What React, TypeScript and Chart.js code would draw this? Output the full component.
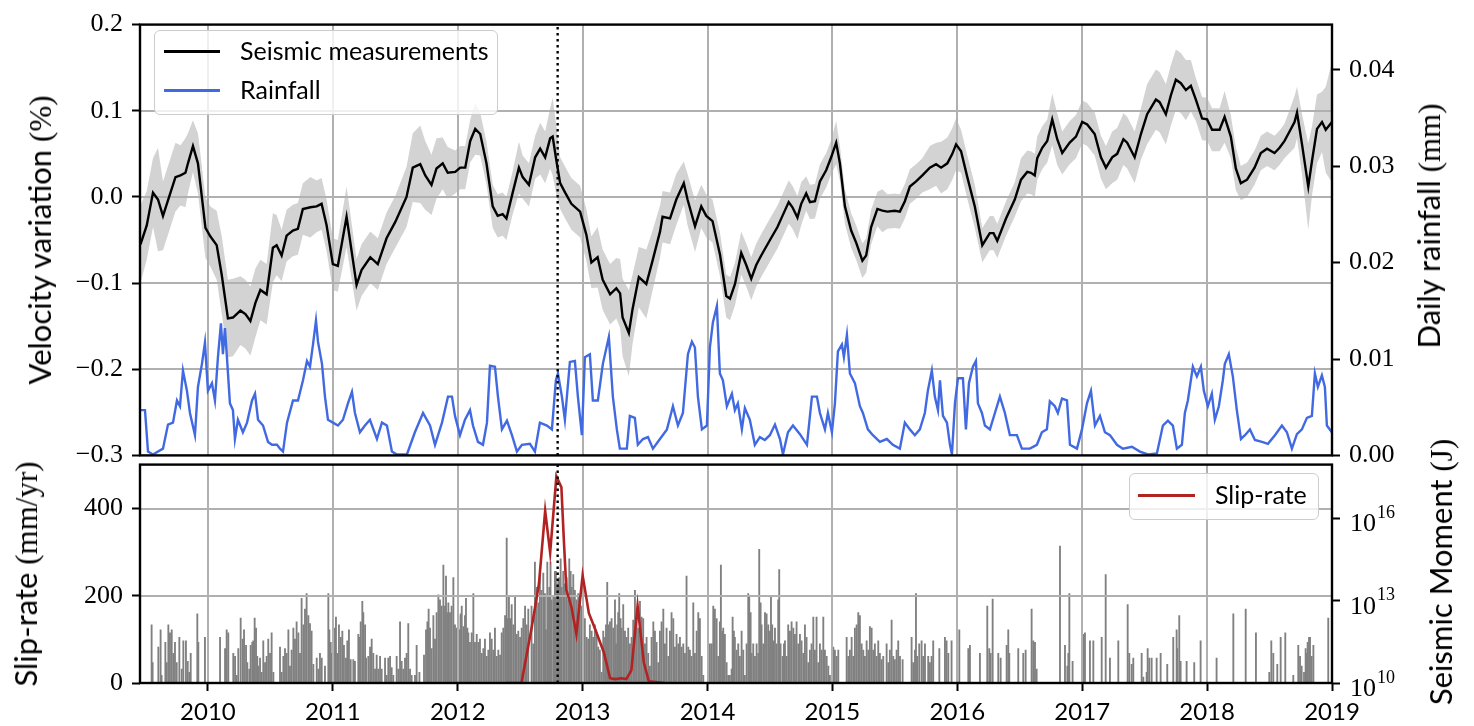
import React, { useEffect, useRef } from 'react';
import { Chart, registerables } from 'chart.js';

Chart.register(...registerables);

// ---------- axis ranges & ticks ----------
const X_MIN = 2009.456;
const X_MAX = 2019;
const yearTicks = [2010, 2011, 2012, 2013, 2014, 2015, 2016, 2017, 2018, 2019];
const velTicks = [-0.3, -0.2, -0.1, 0, 0.1, 0.2];
const velTickLabels = ['\u22120.3', '\u22120.2', '\u22120.1', '0.0', '0.1', '0.2'];
const rainTicks = [0, 0.01, 0.02, 0.03, 0.04];
const rainTickLabels = ['0.00', '0.01', '0.02', '0.03', '0.04'];
const RAIN_MAX = 0.0447;
const slipTicks = [0, 200, 400];
const slipTickLabels = ['0', '200', '400'];
const SLIP_MAX = 501;
const momentTickExponents = [10, 13, 16];
const MOMENT_MIN_EXP = 10;
const MOMENT_MAX_EXP = 17.96;
const eventYear = 2012.8;

// ---------- data: velocity [year, dv/v (%), half-width of uncertainty band] ----------
const velocity: [number, number, number][] = [
[2009.46,-0.055,0.045],[2009.51,-0.033,0.04],[2009.56,0.005,0.04],[2009.60,-0.003,0.06],[2009.64,-0.022,0.04],[2009.70,0.005,0.04],[2009.74,0.023,0.04],[2009.78,0.025,0.035],[2009.82,0.028,0.04],[2009.84,0.039,0.035],[2009.88,0.059,0.03],[2009.92,0.039,0.035],[2009.98,-0.036,0.035],[2010.02,-0.046,0.035],[2010.07,-0.056,0.04],[2010.11,-0.09,0.045],[2010.16,-0.141,0.045],[2010.20,-0.14,0.045],[2010.26,-0.132,0.04],[2010.30,-0.136,0.04],[2010.34,-0.144,0.04],[2010.38,-0.123,0.04],[2010.42,-0.108,0.035],[2010.47,-0.113,0.035],[2010.52,-0.059,0.04],[2010.55,-0.056,0.035],[2010.59,-0.068,0.03],[2010.63,-0.045,0.03],[2010.68,-0.039,0.03],[2010.72,-0.037,0.03],[2010.76,-0.014,0.03],[2010.82,-0.012,0.035],[2010.87,-0.011,0.03],[2010.91,-0.008,0.03],[2010.95,-0.033,0.03],[2011.00,-0.078,0.03],[2011.04,-0.080,0.03],[2011.11,-0.023,0.035],[2011.19,-0.102,0.03],[2011.23,-0.085,0.03],[2011.30,-0.07,0.03],[2011.36,-0.078,0.03],[2011.43,-0.048,0.03],[2011.50,-0.029,0.03],[2011.59,0.0,0.035],[2011.64,0.034,0.04],[2011.70,0.038,0.045],[2011.74,0.025,0.04],[2011.79,0.014,0.035],[2011.83,0.033,0.035],[2011.88,0.039,0.03],[2011.92,0.028,0.03],[2011.98,0.029,0.025],[2012.02,0.034,0.025],[2012.06,0.034,0.025],[2012.10,0.065,0.025],[2012.14,0.079,0.03],[2012.18,0.073,0.025],[2012.23,0.039,0.025],[2012.28,-0.011,0.025],[2012.32,-0.022,0.025],[2012.36,-0.02,0.025],[2012.39,-0.025,0.025],[2012.44,0.005,0.025],[2012.49,0.034,0.03],[2012.52,0.023,0.025],[2012.57,0.014,0.025],[2012.62,0.046,0.025],[2012.66,0.056,0.03],[2012.70,0.046,0.03],[2012.74,0.068,0.035],[2012.76,0.070,0.045],[2012.79,0.042,0.04],[2012.82,0.016,0.03],[2012.86,0.005,0.03],[2012.91,-0.008,0.03],[2012.98,-0.017,0.03],[2013.03,-0.044,0.03],[2013.07,-0.076,0.03],[2013.12,-0.07,0.035],[2013.16,-0.096,0.035],[2013.22,-0.113,0.035],[2013.27,-0.106,0.035],[2013.30,-0.112,0.04],[2013.32,-0.14,0.045],[2013.37,-0.158,0.05],[2013.40,-0.13,0.04],[2013.45,-0.093,0.035],[2013.51,-0.101,0.04],[2013.56,-0.074,0.035],[2013.62,-0.04,0.03],[2013.64,-0.023,0.03],[2013.70,-0.025,0.03],[2013.75,-0.003,0.03],[2013.81,0.016,0.025],[2013.84,-0.003,0.03],[2013.90,-0.034,0.03],[2013.95,-0.011,0.025],[2013.99,-0.022,0.025],[2014.04,-0.028,0.025],[2014.10,-0.067,0.025],[2014.15,-0.115,0.025],[2014.18,-0.118,0.025],[2014.22,-0.101,0.025],[2014.27,-0.065,0.025],[2014.31,-0.079,0.025],[2014.35,-0.095,0.025],[2014.39,-0.079,0.025],[2014.43,-0.068,0.025],[2014.50,-0.05,0.025],[2014.56,-0.035,0.025],[2014.60,-0.022,0.025],[2014.65,-0.006,0.025],[2014.68,-0.012,0.025],[2014.72,-0.024,0.025],[2014.75,-0.008,0.025],[2014.79,0.004,0.02],[2014.82,-0.006,0.02],[2014.86,-0.005,0.02],[2014.90,0.018,0.02],[2014.95,0.031,0.02],[2014.99,0.046,0.02],[2015.03,0.063,0.025],[2015.06,0.039,0.02],[2015.10,-0.011,0.02],[2015.15,-0.039,0.02],[2015.19,-0.053,0.02],[2015.24,-0.074,0.02],[2015.27,-0.068,0.02],[2015.31,-0.035,0.02],[2015.36,-0.014,0.02],[2015.40,-0.016,0.025],[2015.44,-0.017,0.02],[2015.50,-0.016,0.02],[2015.54,-0.017,0.02],[2015.58,-0.005,0.02],[2015.62,0.012,0.02],[2015.67,0.018,0.02],[2015.72,0.025,0.02],[2015.78,0.034,0.025],[2015.83,0.038,0.025],[2015.87,0.034,0.03],[2015.92,0.039,0.03],[2015.96,0.05,0.03],[2015.99,0.061,0.03],[2016.03,0.053,0.025],[2016.08,0.023,0.025],[2016.14,-0.011,0.025],[2016.20,-0.056,0.02],[2016.26,-0.042,0.02],[2016.29,-0.042,0.02],[2016.32,-0.051,0.02],[2016.39,-0.025,0.02],[2016.46,-0.003,0.02],[2016.51,0.02,0.025],[2016.56,0.029,0.025],[2016.59,0.028,0.025],[2016.62,0.025,0.025],[2016.64,0.045,0.025],[2016.68,0.057,0.025],[2016.72,0.065,0.025],[2016.76,0.09,0.03],[2016.80,0.067,0.03],[2016.84,0.051,0.025],[2016.90,0.063,0.025],[2016.95,0.070,0.025],[2017.00,0.087,0.025],[2017.04,0.084,0.025],[2017.10,0.073,0.025],[2017.15,0.046,0.025],[2017.19,0.034,0.025],[2017.24,0.046,0.03],[2017.28,0.05,0.03],[2017.33,0.067,0.03],[2017.36,0.063,0.03],[2017.42,0.046,0.03],[2017.47,0.073,0.03],[2017.52,0.096,0.035],[2017.59,0.113,0.035],[2017.62,0.110,0.035],[2017.67,0.096,0.035],[2017.71,0.118,0.035],[2017.75,0.136,0.035],[2017.79,0.132,0.035],[2017.83,0.124,0.035],[2017.87,0.129,0.03],[2017.91,0.113,0.025],[2017.96,0.091,0.025],[2018.00,0.09,0.025],[2018.04,0.078,0.025],[2018.10,0.078,0.025],[2018.14,0.093,0.03],[2018.19,0.07,0.025],[2018.23,0.033,0.025],[2018.27,0.016,0.02],[2018.32,0.02,0.02],[2018.38,0.034,0.02],[2018.43,0.051,0.02],[2018.48,0.056,0.02],[2018.54,0.051,0.02],[2018.58,0.057,0.02],[2018.62,0.065,0.02],[2018.66,0.076,0.025],[2018.70,0.087,0.03],[2018.72,0.098,0.03],[2018.76,0.061,0.035],[2018.81,0.012,0.05],[2018.84,0.042,0.04],[2018.88,0.079,0.04],[2018.92,0.087,0.035],[2018.95,0.078,0.05],[2019.00,0.087,0.07]
];

// ---------- data: daily rainfall [year, mm] ----------
const rainfall: [number, number][] = [
[2009.46,0.0047],[2009.496,0.0047],[2009.520,0.0004],[2009.560,0.0001],[2009.640,0.0007],[2009.680,0.0032],[2009.720,0.0034],[2009.752,0.0057],[2009.776,0.0051],[2009.800,0.0088],[2009.832,0.0067],[2009.856,0.0044],[2009.896,0.0021],[2009.920,0.0071],[2009.952,0.0095],[2009.976,0.0117],[2010.000,0.0067],[2010.032,0.0075],[2010.056,0.0057],[2010.080,0.0102],[2010.104,0.0137],[2010.120,0.0105],[2010.136,0.0132],[2010.152,0.0102],[2010.176,0.0054],[2010.200,0.0047],[2010.216,0.0017],[2010.240,0.0037],[2010.280,0.0024],[2010.313,0.0034],[2010.353,0.0057],[2010.377,0.0064],[2010.401,0.0037],[2010.441,0.0031],[2010.481,0.0014],[2010.513,0.0011],[2010.553,0.0011],[2010.577,0.0007],[2010.601,0.0004],[2010.633,0.0034],[2010.681,0.0057],[2010.721,0.0057],[2010.761,0.0078],[2010.793,0.0098],[2010.817,0.0092],[2010.841,0.0115],[2010.865,0.0140],[2010.881,0.0118],[2010.913,0.0095],[2010.937,0.0061],[2010.961,0.0037],[2011.001,0.0034],[2011.041,0.0031],[2011.081,0.0037],[2011.121,0.0054],[2011.153,0.0066],[2011.177,0.0044],[2011.217,0.0024],[2011.257,0.0031],[2011.297,0.0037],[2011.353,0.0017],[2011.393,0.0034],[2011.433,0.0031],[2011.473,0.0004],[2011.513,0.0001],[2011.593,0.0001],[2011.657,0.0024],[2011.722,0.0044],[2011.778,0.0031],[2011.818,0.0011],[2011.874,0.0034],[2011.922,0.0061],[2011.954,0.0061],[2011.978,0.0041],[2012.018,0.0021],[2012.058,0.0037],[2012.098,0.0047],[2012.122,0.0031],[2012.162,0.0014],[2012.202,0.0011],[2012.234,0.0034],[2012.258,0.0093],[2012.298,0.0092],[2012.322,0.0061],[2012.354,0.0027],[2012.394,0.0036],[2012.434,0.0021],[2012.474,0.0004],[2012.514,0.0011],[2012.578,0.0012],[2012.618,0.0004],[2012.658,0.0034],[2012.714,0.0031],[2012.754,0.0027],[2012.786,0.0078],[2012.802,0.0085],[2012.834,0.0061],[2012.858,0.0037],[2012.898,0.0097],[2012.938,0.0098],[2012.962,0.0061],[2012.994,0.0021],[2013.018,0.0102],[2013.058,0.0105],[2013.082,0.0057],[2013.122,0.0057],[2013.162,0.0095],[2013.210,0.0123],[2013.242,0.0061],[2013.274,0.0027],[2013.298,0.0007],[2013.354,0.0007],[2013.378,0.0041],[2013.418,0.0039],[2013.442,0.0011],[2013.483,0.0017],[2013.523,0.0019],[2013.563,0.0007],[2013.619,0.0017],[2013.675,0.0027],[2013.723,0.0051],[2013.763,0.0031],[2013.803,0.0044],[2013.843,0.0105],[2013.875,0.0118],[2013.899,0.0112],[2013.923,0.0061],[2013.955,0.0027],[2013.995,0.0031],[2014.019,0.0112],[2014.043,0.0138],[2014.075,0.0155],[2014.099,0.0085],[2014.123,0.0078],[2014.155,0.0051],[2014.195,0.0064],[2014.219,0.0047],[2014.243,0.0054],[2014.275,0.0027],[2014.299,0.0049],[2014.339,0.0037],[2014.379,0.0011],[2014.419,0.0019],[2014.459,0.0016],[2014.499,0.0021],[2014.540,0.0032],[2014.580,0.0017],[2014.604,0.0001],[2014.644,0.0024],[2014.684,0.0031],[2014.740,0.0022],[2014.796,0.0011],[2014.836,0.0061],[2014.876,0.0061],[2014.900,0.0044],[2014.940,0.0027],[2014.964,0.0044],[2014.996,0.0024],[2015.020,0.0054],[2015.044,0.0108],[2015.076,0.0115],[2015.092,0.0102],[2015.116,0.0125],[2015.140,0.0085],[2015.180,0.0075],[2015.220,0.0051],[2015.244,0.0044],[2015.284,0.0027],[2015.324,0.0021],[2015.380,0.0014],[2015.436,0.0017],[2015.484,0.0011],[2015.540,0.0007],[2015.580,0.0034],[2015.620,0.0027],[2015.660,0.0021],[2015.700,0.0027],[2015.740,0.0044],[2015.764,0.0067],[2015.796,0.0088],[2015.820,0.0061],[2015.845,0.0047],[2015.861,0.0078],[2015.885,0.0041],[2015.917,0.0034],[2015.941,0.0011],[2015.957,0.0001],[2015.981,0.0054],[2016.005,0.0080],[2016.045,0.0080],[2016.069,0.0027],[2016.093,0.0075],[2016.125,0.0092],[2016.149,0.0098],[2016.165,0.0054],[2016.197,0.0044],[2016.221,0.0031],[2016.261,0.0027],[2016.301,0.0044],[2016.341,0.0061],[2016.381,0.0044],[2016.421,0.0021],[2016.477,0.0021],[2016.517,0.0007],[2016.581,0.0007],[2016.637,0.0011],[2016.677,0.0024],[2016.717,0.0027],[2016.741,0.0056],[2016.781,0.0051],[2016.805,0.0044],[2016.838,0.0059],[2016.878,0.0057],[2016.902,0.0011],[2016.958,0.0007],[2016.998,0.0027],[2017.038,0.0054],[2017.070,0.0067],[2017.102,0.0031],[2017.142,0.0041],[2017.182,0.0024],[2017.222,0.0021],[2017.278,0.0011],[2017.326,0.0007],[2017.398,0.0009],[2017.462,0.0004],[2017.526,0.0001],[2017.598,0.0002],[2017.646,0.0031],[2017.686,0.0036],[2017.726,0.0031],[2017.758,0.0007],[2017.798,0.0011],[2017.822,0.0044],[2017.846,0.0057],[2017.886,0.0092],[2017.918,0.0082],[2017.950,0.0092],[2017.974,0.0067],[2018.006,0.0051],[2018.038,0.0064],[2018.062,0.0037],[2018.094,0.0051],[2018.126,0.0078],[2018.142,0.0095],[2018.174,0.0105],[2018.206,0.0082],[2018.238,0.0047],[2018.271,0.0017],[2018.303,0.0021],[2018.343,0.0027],[2018.383,0.0016],[2018.439,0.0014],[2018.487,0.0012],[2018.543,0.0021],[2018.599,0.0031],[2018.639,0.0024],[2018.679,0.0007],[2018.719,0.0022],[2018.759,0.0027],[2018.799,0.0039],[2018.839,0.0041],[2018.863,0.0085],[2018.887,0.0071],[2018.919,0.0083],[2018.943,0.0071],[2018.959,0.0031],[2018.999,0.0024]
];

// ---------- data: slip-rate [year, mm/yr] ----------
const slipRate: [number, number][] = [
[2012.39,0],[2012.51,0],[2012.59,124],[2012.65,227],[2012.70,395],[2012.74,299],[2012.79,474],[2012.83,449],[2012.85,326],[2012.87,213],[2012.91,175],[2012.95,112],[2013.00,247],[2013.05,160],[2013.10,124],[2013.17,70],[2013.22,11],[2013.26,9],[2013.31,11],[2013.35,9],[2013.39,29],[2013.44,177],[2013.49,47],[2013.53,4],[2013.66,0]
];

// ---------- data: seismic moment [year, log10 moment (J)] ----------
const quakes: [number, number][] = [
[2009.549,12.12],[2009.557,10.74],[2009.603,11.31],[2009.621,11.94],[2009.629,10.28],[2009.659,11.48],[2009.670,10.74],[2009.683,12.12],[2009.696,11.83],[2009.710,11.94],[2009.723,11.08],[2009.736,11.48],[2009.750,10.74],[2009.771,11.66],[2009.790,10.51],[2009.803,11.54],[2009.824,11.54],[2009.838,10.79],[2009.851,10.39],[2009.862,11.08],[2009.915,12.52],[2009.923,11.48],[2009.976,11.66],
[2010.097,11.66],[2010.137,11.25],[2010.150,11.94],[2010.163,11.83],[2010.203,11.08],[2010.217,10.97],[2010.230,10.28],[2010.243,11.25],[2010.262,12.37],[2010.278,11.60],[2010.289,11.94],[2010.305,11.37],[2010.315,10.74],[2010.331,10.51],[2010.342,11.37],[2010.355,11.48],[2010.363,11.54],[2010.374,12.37],[2010.385,12.00],[2010.395,10.97],[2010.403,10.62],[2010.417,10.91],[2010.430,10.39],[2010.443,11.54],[2010.457,10.74],[2010.470,10.97],[2010.483,11.60],[2010.497,11.08],[2010.510,11.83],[2010.524,10.39],[2010.577,11.31],[2010.590,10.39],[2010.604,10.97],[2010.617,11.25],[2010.630,11.08],[2010.644,11.94],[2010.657,10.62],[2010.670,11.20],[2010.684,12.00],[2010.697,11.60],[2010.710,12.23],[2010.724,11.83],[2010.737,11.08],[2010.750,13.09],[2010.764,12.12],[2010.777,12.69],[2010.790,13.26],[2010.804,12.46],[2010.817,12.17],[2010.830,11.89],[2010.844,10.68],[2010.871,10.91],[2010.884,10.51],[2010.897,11.08],[2010.911,10.91],[2010.937,10.62],[2010.964,13.26],[2010.972,11.94],[2010.983,11.48],[2010.991,11.08],
[2011.004,11.54],[2011.017,12.00],[2011.025,12.40],[2011.036,11.08],[2011.049,12.12],[2011.063,11.66],[2011.076,11.89],[2011.089,11.37],[2011.105,10.91],[2011.116,11.54],[2011.129,11.94],[2011.143,10.85],[2011.164,10.85],[2011.177,10.79],[2011.204,11.77],[2011.217,11.66],[2011.223,12.23],[2011.236,12.98],[2011.244,12.57],[2011.258,12.12],[2011.266,10.91],[2011.284,10.97],[2011.298,11.31],[2011.311,11.60],[2011.324,11.08],[2011.338,10.51],[2011.351,11.02],[2011.364,10.51],[2011.378,10.97],[2011.391,10.51],[2011.418,10.91],[2011.431,10.28],[2011.444,10.91],[2011.458,10.97],[2011.471,10.56],[2011.484,10.28],[2011.511,10.97],[2011.524,10.51],[2011.538,12.23],[2011.551,10.79],[2011.564,10.51],[2011.578,10.91],[2011.591,11.08],[2011.604,12.17],[2011.618,10.51],[2011.631,10.28],[2011.658,10.28],[2011.671,11.37],[2011.693,10.39],[2011.730,11.02],[2011.746,11.94],[2011.757,12.23],[2011.767,12.69],[2011.778,12.00],[2011.791,11.25],[2011.805,12.46],[2011.818,11.60],[2011.831,12.57],[2011.845,13.21],[2011.858,13.03],[2011.871,12.80],[2011.885,14.30],[2011.898,12.80],[2011.906,13.90],[2011.917,12.57],[2011.925,12.92],[2011.938,12.57],[2011.951,12.80],[2011.965,13.84],[2011.978,12.12],[2011.991,12.00],
[2012.005,12.46],[2012.013,11.94],[2012.024,12.52],[2012.032,12.80],[2012.045,12.06],[2012.058,12.46],[2012.066,13.09],[2012.077,12.00],[2012.085,11.83],[2012.098,11.48],[2012.112,11.83],[2012.125,13.26],[2012.138,11.48],[2012.152,11.77],[2012.165,11.48],[2012.178,11.60],[2012.192,11.08],[2012.205,11.25],[2012.218,11.60],[2012.232,10.97],[2012.245,11.20],[2012.258,11.83],[2012.272,11.60],[2012.285,11.20],[2012.298,12.00],[2012.312,10.97],[2012.325,11.20],[2012.339,11.02],[2012.352,11.83],[2012.365,12.00],[2012.379,12.46],[2012.392,15.28],[2012.400,12.35],[2012.410,13.15],[2012.419,12.35],[2012.432,12.86],[2012.445,12.12],[2012.459,13.15],[2012.472,11.77],[2012.485,11.89],[2012.499,11.66],[2012.512,12.00],[2012.525,12.35],[2012.539,12.80],[2012.552,12.12],[2012.565,12.69],
[2012.591,12.80],[2012.605,11.43],[2012.618,14.41],[2012.631,13.49],[2012.645,12.92],[2012.658,14.01],[2012.671,13.38],[2012.685,14.01],[2012.698,13.26],[2012.706,11.94],[2012.717,14.41],[2012.725,13.15],[2012.733,13.49],[2012.743,14.41],[2012.751,13.03],[2012.765,13.15],[2012.778,14.07],[2012.786,14.07],[2012.797,13.49],[2012.805,13.72],[2012.813,13.84],[2012.824,14.53],[2012.832,13.49],[2012.845,14.07],[2012.858,13.61],[2012.872,13.84],[2012.885,13.03],[2012.893,14.53],[2012.904,14.07],[2012.912,13.49],[2012.925,13.95],[2012.938,13.38],[2012.952,13.03],[2012.965,13.26],[2012.978,13.15],[2012.992,12.80],
[2013.005,12.46],[2013.018,12.35],[2013.032,11.66],[2013.045,11.60],[2013.058,12.12],[2013.072,11.89],[2013.085,11.66],[2013.098,12.12],[2013.112,11.77],[2013.125,11.31],[2013.138,11.20],[2013.152,10.39],[2013.165,11.89],[2013.179,11.66],[2013.187,12.12],[2013.197,13.67],[2013.205,12.12],[2013.219,12.23],[2013.232,12.35],[2013.245,12.00],[2013.259,13.03],[2013.267,11.43],[2013.277,12.12],[2013.285,12.57],[2013.293,13.26],[2013.304,12.35],[2013.312,12.00],[2013.325,12.86],[2013.339,11.89],[2013.352,11.66],[2013.365,12.00],[2013.379,11.43],[2013.392,11.66],[2013.405,12.29],[2013.419,13.38],[2013.432,12.40],[2013.445,12.00],[2013.459,12.98],[2013.472,12.40],[2013.485,12.35],[2013.499,11.43],[2013.512,11.66],[2013.525,11.08],[2013.539,10.62],[2013.552,11.66],[2013.566,12.23],[2013.579,11.89],[2013.592,11.48],[2013.606,10.74],[2013.619,11.89],[2013.632,12.23],[2013.646,12.69],[2013.659,11.43],[2013.672,12.00],[2013.686,10.97],[2013.699,11.89],[2013.712,12.57],[2013.726,12.35],[2013.739,11.31],[2013.752,11.77],[2013.766,11.43],[2013.779,11.66],[2013.792,11.31],[2013.806,11.43],[2013.819,11.08],[2013.832,13.90],[2013.846,11.31],[2013.859,11.20],[2013.872,10.97],[2013.886,12.92],[2013.899,11.08],[2013.913,11.89],[2013.926,12.57],[2013.939,12.35],[2013.953,10.97],[2013.966,10.28],
[2014.006,11.08],[2014.019,11.43],[2014.033,11.43],[2014.046,12.80],[2014.059,12.69],[2014.073,12.35],[2014.086,10.97],[2014.099,12.23],[2014.107,14.30],[2014.118,11.89],[2014.126,12.00],[2014.139,11.77],[2014.153,10.74],[2014.166,10.28],[2014.179,10.28],[2014.193,10.51],[2014.201,12.40],[2014.211,11.89],[2014.219,11.66],[2014.233,11.20],[2014.246,11.43],[2014.259,10.97],[2014.273,11.89],[2014.286,11.20],[2014.299,10.28],[2014.313,11.43],[2014.326,13.26],[2014.334,13.15],[2014.345,12.57],[2014.353,11.08],[2014.366,11.43],[2014.380,10.97],[2014.393,11.43],[2014.406,11.08],[2014.414,14.87],[2014.425,12.92],[2014.433,12.12],[2014.446,11.43],[2014.460,12.57],[2014.473,12.52],[2014.486,12.12],[2014.500,11.89],[2014.508,13.15],[2014.518,12.12],[2014.526,11.54],[2014.540,12.00],[2014.553,11.43],[2014.566,13.03],[2014.574,14.13],[2014.585,11.43],[2014.601,10.97],[2014.612,11.43],[2014.620,11.54],[2014.633,10.97],[2014.646,12.12],[2014.660,11.89],[2014.673,12.23],[2014.687,12.00],[2014.700,11.77],[2014.713,12.23],[2014.727,11.43],[2014.740,11.77],[2014.753,11.54],[2014.767,11.08],[2014.780,12.12],[2014.793,11.66],[2014.807,10.74],[2014.820,11.20],[2014.833,11.43],[2014.847,12.40],[2014.860,11.20],[2014.873,12.40],[2014.887,10.74],[2014.900,11.43],[2014.914,11.20],[2014.927,12.40],[2014.940,11.20],[2014.954,10.97],[2014.967,10.62],[2014.980,10.28],
[2015.007,11.31],[2015.020,11.20],[2015.034,10.97],[2015.047,11.20],[2015.114,11.66],[2015.127,10.97],[2015.140,11.20],[2015.154,11.66],[2015.167,10.97],[2015.180,12.00],[2015.194,12.12],[2015.207,12.57],[2015.220,12.46],[2015.234,11.43],[2015.247,11.20],[2015.260,10.97],[2015.274,11.54],[2015.287,11.20],[2015.300,12.06],[2015.314,12.00],[2015.327,11.20],[2015.340,11.43],[2015.354,10.97],[2015.367,11.54],[2015.380,11.08],[2015.394,10.85],[2015.407,10.97],[2015.434,11.43],[2015.447,10.74],[2015.460,11.20],[2015.474,12.29],[2015.487,10.97],[2015.500,10.85],[2015.514,11.20],[2015.527,11.54],[2015.541,10.97],[2015.562,10.85],[2015.634,11.66],[2015.647,10.74],[2015.661,11.20],[2015.669,13.26],[2015.679,10.97],[2015.695,11.43],[2015.714,11.54],[2015.727,10.97],[2015.741,11.43],[2015.767,10.97],[2015.781,10.74],[2015.794,10.97],[2015.807,11.54],[2015.856,11.25],[2015.901,11.66],[2015.914,11.54],[2015.928,11.08],[2015.954,11.54],
[2016.016,11.94],[2016.088,11.25],[2016.101,11.37],[2016.181,11.08],[2016.240,12.80],[2016.256,11.25],[2016.267,11.08],[2016.283,13.06],[2016.328,11.08],[2016.347,10.91],[2016.395,11.37],[2016.408,11.94],[2016.416,11.08],[2016.488,11.25],[2016.528,11.08],[2016.547,11.20],[2016.595,12.69],[2016.608,11.54],[2016.622,11.48],[2016.635,10.51],[2016.822,14.99],[2016.862,11.37],[2016.881,10.62],[2016.889,11.08],[2016.897,13.26],[2016.923,10.79],
[2017.009,11.77],[2017.022,11.83],[2017.062,11.54],[2017.089,11.54],[2017.156,11.66],[2017.188,13.95],[2017.222,10.91],[2017.289,11.54],[2017.364,12.86],[2017.377,11.08],[2017.396,10.68],[2017.409,10.91],[2017.476,11.08],[2017.489,10.22],[2017.516,10.39],[2017.524,11.25],[2017.537,10.91],[2017.556,10.91],[2017.596,10.91],[2017.628,11.08],[2017.681,10.68],[2017.729,11.66],[2017.756,11.94],[2017.761,11.25],[2017.777,12.46],[2017.788,10.79],[2017.836,10.79],[2017.897,10.74],[2017.948,11.54],
[2018.076,10.91],[2018.210,12.52],[2018.309,12.69],[2018.391,11.83],[2018.498,10.39],[2018.514,11.54],[2018.530,11.08],[2018.562,10.68],[2018.589,11.66],[2018.626,11.83],[2018.690,10.28],[2018.730,11.37],[2018.744,10.97],[2018.757,10.62],[2018.776,10.39],[2018.789,11.25],[2018.797,11.08],[2018.805,11.48],[2018.816,11.66],[2018.824,11.66],[2018.837,10.97],[2018.851,11.37],[2018.970,12.37]
];

// ---------- styles ----------
const SERIF = "'Liberation Serif', serif";
const SANS = "Lato, 'DejaVu Sans', sans-serif";
const GRID_COLOR = '#b0b0b0';
const BAND_COLOR = '#d3d3d3';
const VEL_COLOR = '#000000';
const RAIN_COLOR = '#4169e1';
const SLIP_COLOR = '#b22222';
const BAR_COLOR = '#808080';

function framePlugin(id: string) {
  return {
    id,
    afterDatasetsDraw(chart: any) {
      const { ctx, chartArea: a } = chart;
      ctx.save();
      ctx.strokeStyle = '#000';
      ctx.lineWidth = 2.4;
      ctx.strokeRect(a.left, a.top, a.right - a.left, a.bottom - a.top);
      ctx.restore();
    },
  };
}

function gridPlugin(id: string, afterLabel: string, yScaleId: string, yValues: number[]) {
  return {
    id,
    afterDatasetDraw(chart: any, args: any) {
      const ds = chart.data.datasets[args.index];
      if (!ds || ds.label !== afterLabel) return;
      const { ctx, chartArea: a } = chart;
      const xs = chart.scales.x;
      const ys = chart.scales[yScaleId];
      ctx.save();
      ctx.strokeStyle = GRID_COLOR;
      ctx.lineWidth = 2;
      ctx.beginPath();
      yearTicks.forEach((v) => {
        if (v <= X_MIN || v >= X_MAX) return;
        const px = Math.round(xs.getPixelForValue(v));
        ctx.moveTo(px, a.top);
        ctx.lineTo(px, a.bottom);
      });
      yValues.forEach((v) => {
        const py = Math.round(ys.getPixelForValue(v));
        if (py <= a.top + 1 || py >= a.bottom - 1) return;
        ctx.moveTo(a.left, py);
        ctx.lineTo(a.right, py);
      });
      ctx.stroke();
      ctx.restore();
    },
  };
}

const momentLabelPlugin = {
  id: 'momentLabels',
  afterDraw(chart: any) {
    const s = chart.scales.yMom;
    const { ctx, chartArea } = chart;
    ctx.save();
    ctx.fillStyle = '#000';
    ctx.textAlign = 'left';
    ctx.textBaseline = 'middle';
    momentTickExponents.forEach((e) => {
      const y = s.getPixelForValue(Math.pow(10, e));
      const x0 = chartArea.right + 18;
      ctx.font = `26px ${SERIF}`;
      ctx.fillText('10', x0, y + 6);
      const w = ctx.measureText('10').width;
      ctx.font = `18px ${SERIF}`;
      ctx.fillText(String(e), x0 + w + 1, y - 5);
    });
    ctx.restore();
  },
};

const tickGrid = { drawOnChartArea: false, drawTicks: true, tickLength: 8, tickColor: '#000', tickWidth: 2 };

export default function App() {
  const topRef = useRef<HTMLCanvasElement>(null);
  const botRef = useRef<HTMLCanvasElement>(null);

  useEffect(() => {
    const top = new Chart(topRef.current as HTMLCanvasElement, {
      type: 'line',
      data: {
        datasets: [
          { label: 'bandHi', data: velocity.map(([t, v, e]) => ({ x: t, y: v + e })), borderWidth: 0, pointRadius: 0, fill: '+1', backgroundColor: BAND_COLOR, borderColor: BAND_COLOR, yAxisID: 'yVel', order: 6 } as any,
          { label: 'bandLo', data: velocity.map(([t, v, e]) => ({ x: t, y: v - e })), borderWidth: 0, pointRadius: 0, fill: false, borderColor: BAND_COLOR, yAxisID: 'yVel', order: 5 },
          { label: 'Seismic measurements', data: velocity.map(([t, v]) => ({ x: t, y: v })), borderColor: VEL_COLOR, borderWidth: 2.4, pointRadius: 0, fill: false, yAxisID: 'yVel', order: 2 },
          { label: 'Rainfall', data: rainfall.map(([t, r]) => ({ x: t, y: r })), borderColor: RAIN_COLOR, borderWidth: 2.4, pointRadius: 0, fill: false, yAxisID: 'yRain', order: 1 },
          { label: 'event', data: [{ x: eventYear, y: velTicks[0] }, { x: eventYear, y: velTicks[velTicks.length - 1] }], borderColor: '#000', borderWidth: 2.4, borderDash: [2.5, 3.5], pointRadius: 0, fill: false, yAxisID: 'yVel', order: 0 },
        ],
      },
      options: {
        responsive: false,
        animation: false,
        events: [],
        layout: { padding: { top: 16, bottom: 20, left: 0, right: 0 } },
        plugins: { legend: { display: false }, tooltip: { enabled: false } },
        elements: { line: { tension: 0 } },
        scales: {
          x: { type: 'linear', min: X_MIN, max: X_MAX, display: false, offset: false },
          yVel: {
            type: 'linear', position: 'left', min: velTicks[0], max: velTicks[velTicks.length - 1],
            afterBuildTicks: (s: any) => { s.ticks = velTicks.map((v) => ({ value: v })); },
            afterFit: (s: any) => { s.width = 140; },
            ticks: { callback: (_v: any, i: number) => velTickLabels[i], font: { family: SERIF, size: 26 }, color: '#000', padding: 9, autoSkip: false },
            grid: tickGrid, border: { display: false },
          },
          yRain: {
            type: 'linear', position: 'right', min: 0, max: RAIN_MAX,
            afterBuildTicks: (s: any) => { s.ticks = rainTicks.map((v) => ({ value: v })); },
            afterFit: (s: any) => { s.width = 142; },
            ticks: { callback: (_v: any, i: number) => rainTickLabels[i], font: { family: SERIF, size: 26 }, color: '#000', padding: 9, autoSkip: false },
            grid: tickGrid, border: { display: false },
          },
        },
      } as any,
      plugins: [gridPlugin('gridTop', 'bandLo', 'yVel', velTicks), framePlugin('frameTop')],
    });

    const bot = new Chart(botRef.current as HTMLCanvasElement, {
      type: 'line',
      data: {
        datasets: [
          { type: 'bar', label: 'moment', data: quakes.map(([t, e]) => ({ x: t, y: Math.pow(10, e) })), backgroundColor: BAR_COLOR, borderWidth: 0, barThickness: 1.2, base: Math.pow(10, MOMENT_MIN_EXP), grouped: false, yAxisID: 'yMom', order: 3 } as any,
          { type: 'line', label: 'Slip-rate', data: slipRate.map(([t, s]) => ({ x: t, y: s })), borderColor: SLIP_COLOR, borderWidth: 2.6, pointRadius: 0, fill: false, yAxisID: 'ySlip', order: 1 },
          { type: 'line', label: 'event', data: [{ x: eventYear, y: 0 }, { x: eventYear, y: SLIP_MAX }], borderColor: '#000', borderWidth: 2.4, borderDash: [2.5, 3.5], pointRadius: 0, fill: false, yAxisID: 'ySlip', order: 0 },
        ],
      },
      options: {
        responsive: false,
        animation: false,
        events: [],
        layout: { padding: { top: 20, bottom: 0, left: 0, right: 0 } },
        plugins: { legend: { display: false }, tooltip: { enabled: false } },
        elements: { line: { tension: 0 } },
        scales: {
          x: {
            type: 'linear', position: 'bottom', min: X_MIN, max: X_MAX, offset: false,
            afterBuildTicks: (s: any) => { s.ticks = yearTicks.map((v) => ({ value: v })); },
            afterFit: (s: any) => { s.height = 43; },
            ticks: { callback: (v: any) => String(v), font: { family: SANS, size: 24 }, color: '#000', padding: 7, maxRotation: 0, autoSkip: false },
            grid: { ...tickGrid, offset: false }, border: { display: false },
          },
          ySlip: {
            type: 'linear', position: 'left', min: 0, max: SLIP_MAX,
            afterBuildTicks: (s: any) => { s.ticks = slipTicks.map((v) => ({ value: v })); },
            afterFit: (s: any) => { s.width = 140; },
            ticks: { callback: (_v: any, i: number) => slipTickLabels[i], font: { family: SERIF, size: 26 }, color: '#000', padding: 9, autoSkip: false },
            grid: tickGrid, border: { display: false },
          },
          yMom: {
            type: 'logarithmic', position: 'right', min: Math.pow(10, MOMENT_MIN_EXP), max: Math.pow(10, MOMENT_MAX_EXP),
            afterBuildTicks: (s: any) => { s.ticks = momentTickExponents.map((e) => ({ value: Math.pow(10, e) })); },
            afterFit: (s: any) => { s.width = 142; },
            ticks: { callback: () => '', font: { family: SERIF, size: 26 }, autoSkip: false },
            grid: tickGrid, border: { display: false },
          },
        },
      } as any,
      plugins: [gridPlugin('gridBot', 'moment', 'ySlip', slipTicks), framePlugin('frameBot'), momentLabelPlugin],
    });

    return () => {
      top.destroy();
      bot.destroy();
    };
  }, []);

  const title = (cx: number, cy: number): React.CSSProperties => ({
    position: 'absolute', left: cx, top: cy, transform: 'translate(-50%, -50%) rotate(-90deg)',
    whiteSpace: 'nowrap', fontFamily: SANS, fontSize: 31, lineHeight: 1, color: '#000',
  });
  const unit: React.CSSProperties = { fontFamily: SERIF };
  const legendText: React.CSSProperties = { position: 'absolute', fontFamily: SANS, fontSize: 25, lineHeight: '25px', color: '#000', whiteSpace: 'nowrap' };

  return (
    <div style={{ position: 'absolute', left: 0, top: 0, width: 1474, height: 726, background: '#fff', overflow: 'hidden' }}>
      <canvas ref={botRef} width={1474} height={286} style={{ position: 'absolute', left: 0, top: 440 }} />
      <canvas ref={topRef} width={1474} height={480} style={{ position: 'absolute', left: 0, top: 0 }} />

      <div style={title(40, 240)}>Velocity variation <span style={unit}>(%)</span></div>
      <div style={title(26, 574)}>Slip-rate <span style={unit}>(mm/yr)</span></div>
      <div style={title(1429, 226)}>Daily rainfall <span style={unit}>(mm)</span></div>
      <div style={title(1441, 572)}>Seismic Moment <span style={unit}>(J)</span></div>

      <div style={{ position: 'absolute', left: 154, top: 30, width: 344, height: 85, border: '1.5px solid #cccccc', borderRadius: 6, background: 'rgba(255,255,255,0.8)', boxSizing: 'border-box' }} />
      <div style={{ position: 'absolute', left: 164, top: 50, width: 56, height: 2.5, background: VEL_COLOR }} />
      <div style={{ ...legendText, left: 240, top: 38 }}>Seismic measurements</div>
      <div style={{ position: 'absolute', left: 164, top: 89, width: 56, height: 2.5, background: RAIN_COLOR }} />
      <div style={{ ...legendText, left: 240, top: 77 }}>Rainfall</div>

      <div style={{ position: 'absolute', left: 1129, top: 473, width: 190, height: 47, border: '1.5px solid #cccccc', borderRadius: 6, background: 'rgba(255,255,255,0.8)', boxSizing: 'border-box' }} />
      <div style={{ position: 'absolute', left: 1138, top: 494, width: 57, height: 2.5, background: SLIP_COLOR }} />
      <div style={{ ...legendText, left: 1215, top: 482 }}>Slip-rate</div>
    </div>
  );
}
